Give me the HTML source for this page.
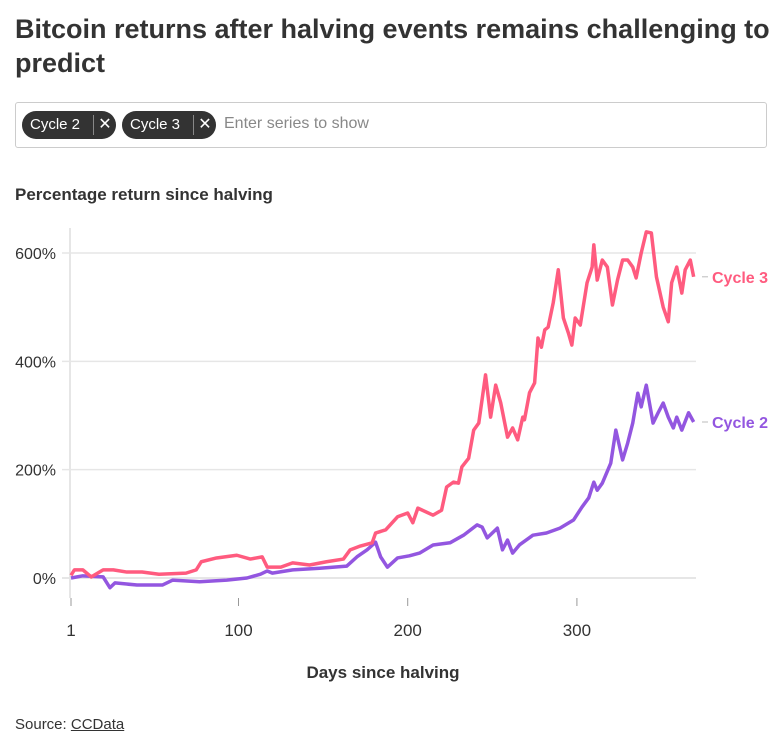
<!DOCTYPE html>
<html><head><meta charset="utf-8">
<style>
body{margin:0;width:780px;height:750px;background:#fff;font-family:"Liberation Sans",sans-serif;color:#333;overflow:hidden}
h1{position:absolute;left:15px;top:12px;margin:0;font-size:27px;line-height:34px;font-weight:bold;width:765px;color:#333;letter-spacing:0}
.box{position:absolute;left:15px;top:102px;width:750px;height:44px;border:1px solid #ccc;border-radius:3px}
.tag{position:absolute;top:8px;height:28px;background:#333;color:#fff;border-radius:14px;font-size:15px;line-height:28px;padding-left:8px}
.tag .x{position:absolute;right:0;top:0;width:22px;text-align:center;border-left:1px solid #888;height:20px;margin-top:4px;line-height:20px;font-size:16px}
.ph{position:absolute;left:208px;top:12px;font-size:16px;color:#888}
.sub{position:absolute;left:15px;top:185px;font-size:17px;font-weight:bold}
.src{position:absolute;left:15px;top:716px;font-size:15px}
</style></head><body>
<h1>Bitcoin returns after halving events remains challenging to predict</h1>
<div class="box">
<div class="tag" style="left:6px;width:86px">Cycle 2<span class="x">✕</span></div>
<div class="tag" style="left:106px;width:86px">Cycle 3<span class="x">✕</span></div>
<div class="ph">Enter series to show</div>
</div>
<div class="sub">Percentage return since halving</div>
<svg id="c" width="780" height="750" style="position:absolute;left:0;top:0"></svg>
<div class="src">Source: <u>CCData</u></div>
<script>
const yTicks=[0,200,400,600];
const xTicks=[1,100,200,300];
const c3Days=[1,3,8,13,20,26,34,43,53,69,75,78,87,99,107,114,117,125,132,142,152,162,166,172,179,181,187,194,200,203,206,215,220,223,227,230,232,236,239,242,246,249,252,255,259,262,265,268,269,272,275,277,279,281,283,286,289,292,295,297,299,302,306,309,310,312,315,318,321,324,327,330,333,335,338,341,344,347,351,354,356,359,362,364,367,369];
const c3Vals=[5,15,15,2,15,15,11,11,7,9,15,30,37,42,35,39,20,20,28,24,30,35,52,59,65,83,89,113,120,102,129,116,125,168,177,175,205,221,273,286,375,297,356,323,260,277,255,297,292,342,360,443,426,458,463,508,569,480,452,430,480,467,545,574,615,550,587,574,504,550,587,587,574,554,600,639,637,556,500,473,545,574,526,569,587,556];
const c2Days=[1,8,20,24,27,40,55,61,77,93,105,113,117,120,132,148,164,170,176,181,184,188,194,201,207,215,225,233,241,244,247,253,256,259,262,266,274,282,290,298,303,307,310,312,315,320,323,327,330,333,336,338,341,345,348,351,354,357,359,362,366,369];
const c2Vals=[0,4,2,-18,-9,-13,-13,-4,-7,-4,0,7,13,9,15,18,22,39,52,66,39,20,37,41,46,61,65,79,98,94,74,92,52,70,46,61,79,83,92,107,131,148,177,162,175,212,273,218,249,286,341,316,356,286,305,323,297,277,297,273,305,288];
const svg=document.getElementById('c');const NS='http://www.w3.org/2000/svg';
const X=d=>71+(d-1)*1.692, Y=v=>578-v*0.5417;
function mk(t,a){const e=document.createElementNS(NS,t);for(const k in a)e.setAttribute(k,a[k]);svg.appendChild(e);return e;}
yTicks.forEach(v=>{
 const g=mk('line',{x1:62,x2:696,y1:Y(v),y2:Y(v),stroke:'#e6e6e6','stroke-width':v===0?2:1.5});
 
 
 const t=mk('text',{x:56,y:Y(v)+6,'text-anchor':'end','font-size':16,fill:'#333'});t.textContent=v+'%';
 
 
});
const ax=mk('line',{x1:70,x2:70,y1:228,y2:598,stroke:'#e6e6e6','stroke-width':2});


xTicks.forEach(d=>{
 const t=mk('text',{x:X(d),y:636,'text-anchor':'middle','font-size':17,fill:'#333'});t.textContent=d;
 
 
 const l=mk('line',{x1:X(d),x2:X(d),y1:598,y2:606,stroke:'#999','stroke-width':1});
 
 
});
const xt=mk('text',{x:383,y:678,'text-anchor':'middle','font-size':17,'font-weight':'bold',fill:'#333'});xt.textContent='Days since halving';


function series(days,vals,color,name){
 const p=mk('polyline',{points:days.map((d,i)=>X(d)+','+Y(vals[i])).join(' '),fill:'none',stroke:color,'stroke-width':3.5,'stroke-linejoin':'round'});
 
 
 const ly=Y(vals[vals.length-1]);
 const dl=mk('line',{x1:702,x2:708,y1:ly,y2:ly,stroke:'#bbb','stroke-width':1});
 
 
 const t=mk('text',{x:712,y:ly+6,'font-size':16,'font-weight':'bold',fill:color});t.textContent=name==='cycle-3'?'Cycle 3':'Cycle 2';
 
 
}
series(c2Days,c2Vals,'#9356e0','cycle-2');
series(c3Days,c3Vals,'#ff5b7f','cycle-3');
</script>
</body></html>
